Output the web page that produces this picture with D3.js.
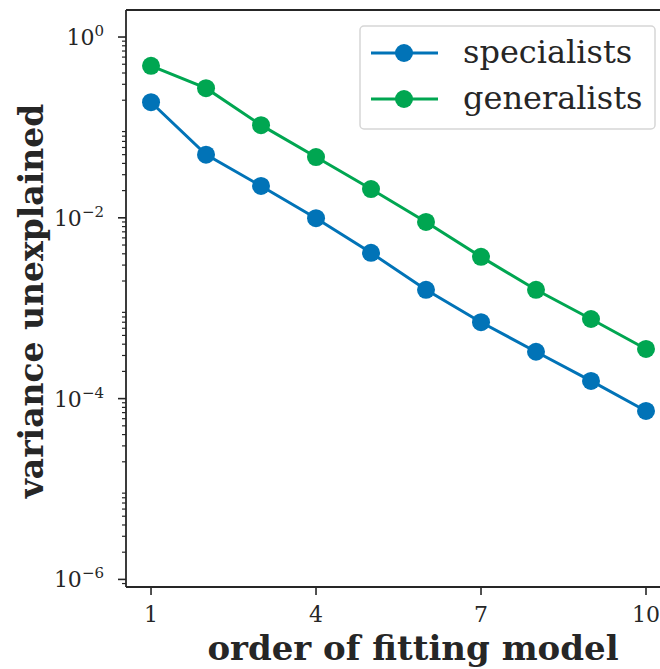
<!DOCTYPE html>
<html>
<head>
<meta charset="utf-8">
<script src="https://cdn.jsdelivr.net/npm/d3@7"></script>
<style>
  body { margin: 0; background: #fff; }
  svg { display: block; font-family: "DejaVu Serif", serif; }
</style>
</head>
<body>
<div id="chart"></div>
<script>
// chart data
var orders = [1, 2, 3, 4, 5, 6, 7, 8, 9, 10];
var specialists = [0.19, 0.05, 0.0225, 0.0099, 0.0041, 0.0016, 0.0007, 0.00033, 0.000157, 0.000073];
var generalists = [0.48, 0.272, 0.106, 0.047, 0.0208, 0.009, 0.0037, 0.0016, 0.00076, 0.000354];
var xTicks = [1, 4, 7, 10];
var yMajor = [0, -2, -4, -6];
var seriesNames = ["specialists", "generalists"];
var seriesColors = ["#0173b7", "#00a651"];

var width = 660, height = 669;
var mLeft = 126, mTop = 10, mRight = 701, mBottom = 587;
var ink = "#262626";

var svg = d3.select("#chart").append("svg")
  .attr("width", width).attr("height", height);

var x = d3.scaleLinear().domain([0.545, 11]).range([mLeft, mRight]);
var y = d3.scaleLog().domain([Math.pow(10, -6.084), Math.pow(10, 0.299)]).range([mBottom, mTop]);

// minor log ticks
var minor = [];
for (var k = -7; k <= 0; k++) {
  for (var m = 2; m <= 9; m++) {
    var v = m * Math.pow(10, k);
    if (v >= y.domain()[0] && v <= y.domain()[1]) minor.push(v);
  }
}
svg.append("g").selectAll("line").data(minor).enter().append("line")
  .attr("x1", mLeft - 4).attr("x2", mLeft)
  .attr("y1", function (d) { return y(d); }).attr("y2", function (d) { return y(d); })
  .attr("stroke", ink).attr("stroke-width", 1.2);

// major y ticks
var yt = svg.append("g").selectAll("g").data(yMajor).enter().append("g")
  .attr("transform", function (d) { return "translate(0," + y(Math.pow(10, d)) + ")"; });
yt.append("line").attr("x1", mLeft - 8).attr("x2", mLeft).attr("stroke", ink).attr("stroke-width", 1.6);
var ylab = yt.append("text").attr("x", mLeft - 22).attr("y", 8)
  .attr("text-anchor", "end").attr("fill", ink).style("font-size", "22px");
ylab.append("tspan").text("10");
ylab.append("tspan").attr("dy", -9).style("font-size", "15px")
  .text(function (d) { return d === 0 ? "0" : "\u2212" + (-d); });

// x ticks
var xt = svg.append("g").selectAll("g").data(xTicks).enter().append("g")
  .attr("transform", function (d) { return "translate(" + x(d) + ",0)"; });
xt.append("line").attr("y1", mBottom).attr("y2", mBottom + 8).attr("stroke", ink).attr("stroke-width", 1.6);
xt.append("text").attr("y", 622).attr("text-anchor", "middle").attr("fill", ink)
  .style("font-size", "22px").text(function (d) { return d; });

// spines
svg.append("line").attr("x1", mLeft).attr("x2", mLeft).attr("y1", mTop).attr("y2", mBottom)
  .attr("stroke", ink).attr("stroke-width", 1.8);
svg.append("line").attr("x1", mLeft).attr("x2", mRight).attr("y1", mBottom).attr("y2", mBottom)
  .attr("stroke", ink).attr("stroke-width", 1.8);
svg.append("line").attr("x1", mLeft).attr("x2", mRight).attr("y1", mTop).attr("y2", mTop)
  .attr("stroke", ink).attr("stroke-width", 1.8);

// series
var allSeries = [specialists, generalists];
var line = d3.line().x(function (d, i) { return x(orders[i]); }).y(function (d) { return y(d); });
allSeries.forEach(function (vals, s) {
  svg.append("path").datum(vals).attr("d", line).attr("fill", "none")
    .attr("stroke", seriesColors[s]).attr("stroke-width", 3);
  svg.append("g").selectAll("circle").data(vals).enter().append("circle")
    .attr("cx", function (d, i) { return x(orders[i]); })
    .attr("cy", function (d) { return y(d); })
    .attr("r", 9).attr("fill", seriesColors[s]);
});

// legend
var lg = svg.append("g");
lg.append("rect").attr("x", 360).attr("y", 26).attr("width", 295).attr("height", 103)
  .attr("rx", 4).attr("fill", "#fff").attr("fill-opacity", 0.8)
  .attr("stroke", "#d6d6d6").attr("stroke-width", 1.5);
seriesNames.forEach(function (name, i) {
  var ry = 53 + i * 46;
  lg.append("line").attr("x1", 371).attr("x2", 438).attr("y1", ry).attr("y2", ry)
    .attr("stroke", seriesColors[i]).attr("stroke-width", 3);
  lg.append("circle").attr("cx", 404).attr("cy", ry).attr("r", 9).attr("fill", seriesColors[i]);
  lg.append("text").attr("x", 463).attr("y", ry + 10).attr("fill", ink)
    .style("font-size", "32px").text(name);
});

// axis labels
svg.append("text").attr("x", 413).attr("y", 660).attr("text-anchor", "middle")
  .attr("fill", ink).style("font-size", "34px").style("font-weight", "bold")
  .text("order of fitting model");
svg.append("text").attr("transform", "translate(43,301) rotate(-90)")
  .attr("text-anchor", "middle").attr("fill", ink)
  .style("font-size", "33px").style("font-weight", "bold")
  .text("variance unexplained");
</script>
</body>
</html>
